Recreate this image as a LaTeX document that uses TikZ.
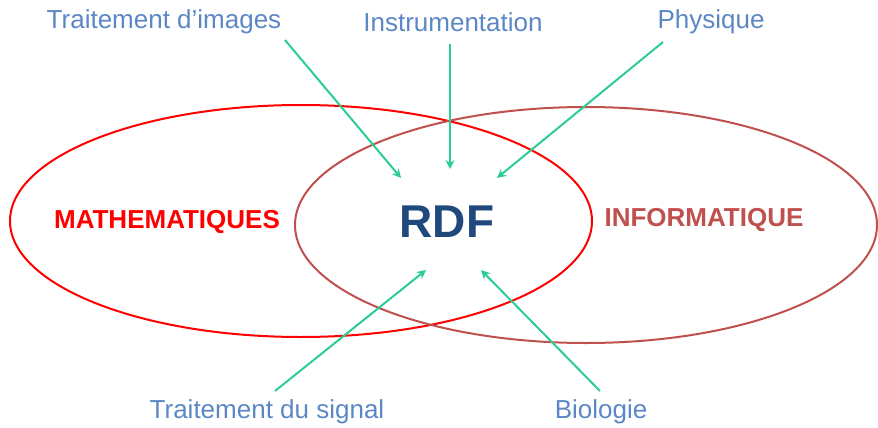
\documentclass[tikz,border=0pt]{standalone}
\usepackage{fontspec}
\setmainfont{Liberation Sans}
\usetikzlibrary{arrows.meta}
\definecolor{lblue}{HTML}{5B87C5}
\definecolor{dblue}{HTML}{1F497D}
\definecolor{brick}{HTML}{C0504D}
\definecolor{teal}{HTML}{2BCC96}
\tikzset{
  lbl/.style={inner sep=0pt, text=lblue, font=\fontsize{26}{30}\selectfont},
  big/.style={inner sep=0pt, font=\fontsize{26}{30}\selectfont\bfseries},
  arr/.style={draw=teal, line width=2pt, -{Stealth[length=9pt,width=9pt]}},
}
\begin{document}
\begin{tikzpicture}[x=1pt,y=-1pt]
\useasboundingbox (0,0) rectangle (878,428);
\draw[red, line width=2pt] (301,221) ellipse [x radius=291pt, y radius=116pt];
\draw[brick, line width=2pt] (586,225) ellipse [x radius=291pt, y radius=118pt];
\node[big, text=red] (math) at (167,222) {MATHEMATIQUES};
\node[big, text=brick] (info) at (704,220) {INFORMATIQUE};
\node[inner sep=0pt, text=dblue, font=\fontsize{46}{50}\selectfont\bfseries] (rdf) at (447,222) {RDF};
\node[lbl] (ti) at (164,22) {Traitement d’images};
\node[lbl] (ins) at (453,22) {Instrumentation};
\node[lbl] (phy) at (711,22) {Physique};
\node[lbl] (ts) at (267,412) {Traitement du signal};
\node[lbl] (bio) at (601,412) {Biologie};
\coordinate (s1) at (285,40);
\coordinate (e1) at (401,178);
\coordinate (s2) at (450,44);
\coordinate (e2) at (450,169);
\coordinate (s3) at (663,42);
\coordinate (e3) at (497,178);
\coordinate (s4) at (275,391);
\coordinate (e4) at (426,270);
\coordinate (s5) at (600,391);
\coordinate (e5) at (481,270);
\draw[arr] (s1) -- (e1);
\draw[arr] (s2) -- (e2);
\draw[arr] (s3) -- (e3);
\draw[arr] (s4) -- (e4);
\draw[arr] (s5) -- (e5);
\end{tikzpicture}
\end{document}
